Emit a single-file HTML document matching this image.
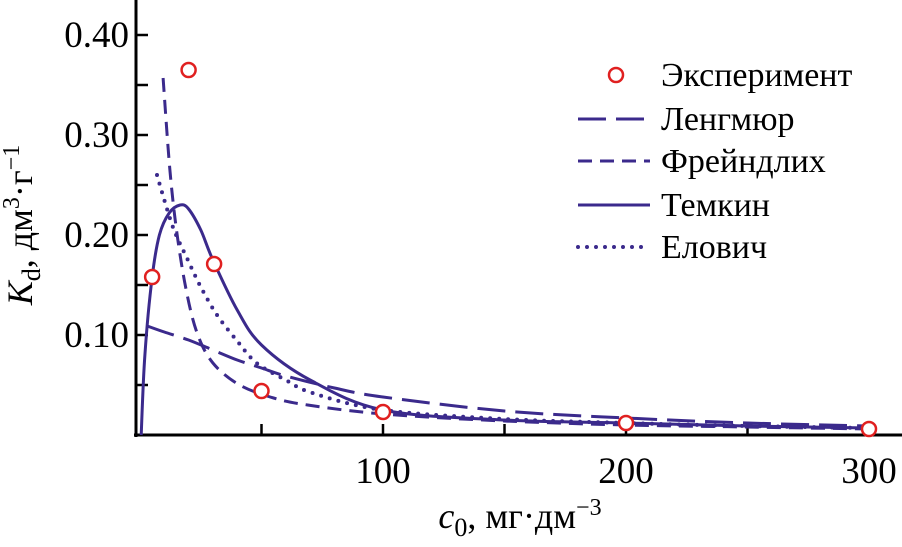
<!DOCTYPE html>
<html><head><meta charset="utf-8"><style>
body{margin:0;background:#fff}
svg, svg text{font-family:"Liberation Serif","DejaVu Serif","Times New Roman",serif}
</style></head><body>
<svg id="chart" width="902" height="542" viewBox="0 0 902 542" font-family="Liberation Serif, DejaVu Serif, serif">
<g id="axes"></g>
<g id="series"></g>
<g id="legend"></g>
<text x="32" y="225" font-size="36" font-family="Liberation Serif, serif" text-anchor="middle" transform="rotate(-90 32 225)"><tspan font-style="italic">K</tspan><tspan font-size="26" dy="8">d</tspan><tspan dy="-8">, дм</tspan><tspan font-size="24" dy="-13">3</tspan><tspan dy="13">·г</tspan><tspan font-size="24" dy="-13">−1</tspan></text>
<text x="520" y="528" font-size="36" font-family="Liberation Serif, serif" text-anchor="middle"><tspan font-style="italic">c</tspan><tspan font-size="26" dy="8">0</tspan><tspan dy="-8">, мг·дм</tspan><tspan font-size="24" dy="-13">−3</tspan></text>
</svg>
<script>
const xTicks=[100,200,300];
const xMinor=[50,100,150,200,250,300];
const yTicks=[0.10,0.20,0.30,0.40];
const yMinor=[0.05,0.10,0.15,0.20,0.25,0.30,0.35,0.40];
const expC=[5,20,30.5,50,100,200,300];
const expK=[0.158,0.365,0.171,0.044,0.023,0.012,0.006];
const langC=[3,10,20,30,40,50,60,80,100,150,200,250,300];
const langK=[0.109,0.103,0.095,0.085,0.075,0.067,0.059,0.047,0.038,0.024,0.017,0.012,0.009];
const freC=[9.5,12.3,15.2,19,23.5,30,41,55,69,100,150,200,250,300];
const freK=[0.357,0.265,0.202,0.145,0.102,0.072,0.05,0.037,0.030,0.021,0.014,0.010,0.008,0.006];
const temC=[0.5,2,5,8,12,16.5,20,25,30,40,50,70,100,150,200,250,300];
const temK=[0,0.08,0.158,0.2,0.222,0.23,0.226,0.205,0.175,0.125,0.09,0.055,0.025,0.015,0.012,0.009,0.007];
const eloC=[7,10,14,19.3,25,31.7,40,48,60,71,100,150,200,250,300];
const eloK=[0.26,0.235,0.205,0.177,0.148,0.12,0.094,0.072,0.055,0.042,0.025,0.016,0.012,0.009,0.007];
const legendLabels=["Эксперимент","Ленгмюр","Фрейндлих","Темкин","Елович"];
const X=c=>140+c*2.43;
const Y=k=>435-k*1000;
const NS="http://www.w3.org/2000/svg";
const C="#3b2a8c";
const FF="Liberation Serif, DejaVu Serif, serif";
function mk(tag,attrs,parent){const e=document.createElementNS(NS,tag);for(const k in attrs)e.setAttribute(k,attrs[k]);parent.appendChild(e);return e;}
const ax=document.getElementById('axes');
let a=mk('line',{x1:136,y1:0,x2:136,y2:437,stroke:'#000','stroke-width':3},ax);


a=mk('line',{x1:134,y1:435,x2:902,y2:435,stroke:'#000','stroke-width':3},ax);


xMinor.forEach(v=>{const t=mk('line',{x1:X(v),y1:435,x2:X(v),y2:424,stroke:'#000','stroke-width':2.5},ax);

});
yMinor.forEach(v=>{const t=mk('line',{x1:136,y1:Y(v),x2:148,y2:Y(v),stroke:'#000','stroke-width':2.5},ax);

});
xTicks.forEach(v=>{const t=mk('text',{x:X(v),y:483,'font-size':37,'font-family':FF,'text-anchor':'middle'},ax);t.textContent=v;

});
yTicks.forEach(v=>{const t=mk('text',{x:129,y:Y(v)+12,'font-size':37,'font-family':FF,'text-anchor':'end'},ax);t.textContent=v.toFixed(2);

});
const sg=document.getElementById('series');
function smooth(cs,ks){const p=cs.map((c,i)=>[X(c),Y(ks[i])]);let d='M'+p[0][0].toFixed(1)+' '+p[0][1].toFixed(1);
for(let i=0;i<p.length-1;i++){const p0=p[Math.max(0,i-1)],p1=p[i],p2=p[i+1],p3=p[Math.min(p.length-1,i+2)];
const c1=[p1[0]+(p2[0]-p0[0])/6,p1[1]+(p2[1]-p0[1])/6],c2=[p2[0]-(p3[0]-p1[0])/6,p2[1]-(p3[1]-p1[1])/6];
d+=' C'+c1.map(v=>v.toFixed(1)).join(' ')+' '+c2.map(v=>v.toFixed(1)).join(' ')+' '+p2.map(v=>v.toFixed(1)).join(' ');}
return d;}
function line(cs,ks,dash,name){
const p=mk('path',{d:smooth(cs,ks),fill:'none',stroke:C,'stroke-width':dash==='dot'?4:3,'stroke-dasharray':dash==='dot'?'0 9':(dash||'none'),'stroke-linecap':dash==='dot'?'round':'butt'},sg);

}
line(langC,langK,'28 10','langmuir-line');
line(freC,freK,'14 8','freundlich-line');
line(temC,temK,null,'temkin-line');
line(eloC,eloK,'dot','elovich-line');
expC.forEach((c,i)=>{const p=mk('circle',{cx:X(c),cy:Y(expK[i]),r:7,fill:'#fff',stroke:'#e02020','stroke-width':2.5},sg);

});
const lg=document.getElementById('legend');
const rows=[75,119,161,205,247];
const styles=[null,'28 10','14 8','none','dot'];
legendLabels.forEach((lab,i)=>{const y=rows[i];
if(i===0){const m=mk('circle',{cx:616,cy:y,r:7,fill:'#fff',stroke:'#e02020','stroke-width':2.5},lg);

}
else{const s=styles[i];const m=mk('line',{x1:578,y1:y,x2:650,y2:y,stroke:C,'stroke-width':s==='dot'?4:3,'stroke-dasharray':s==='dot'?'0 9':s,'stroke-linecap':s==='dot'?'round':'butt'},lg);

}
const t=mk('text',{x:661,y:y+11,'font-size':34,'font-family':FF},lg);t.textContent=lab;

});
</script>
</body></html>
